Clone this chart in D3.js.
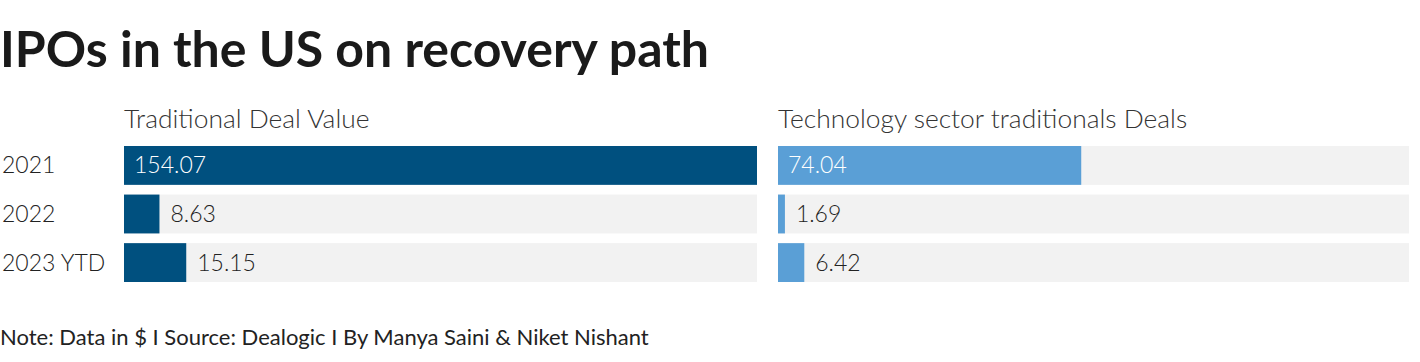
<!DOCTYPE html>
<html>
<head>
<meta charset="utf-8">
<script src="https://cdn.jsdelivr.net/npm/d3@7"></script>
<style>
  body { margin: 0; background: #fff; }
  svg { display: block; font-family: "Source Sans Pro", Lato, "Noto Sans", sans-serif; }
</style>
</head>
<body>
<svg id="chart" width="1420" height="362"></svg>
<script>
var years = ["2021", "2022", "2023 YTD"];
var dealValue = [154.07, 8.63, 15.15];
var techDeals = [74.04, 1.69, 6.42];
var panelTitles = ["Traditional Deal Value", "Technology sector traditionals Deals"];

var svg = d3.select("#chart");

svg.append("text")
    .attr("x", 0).attr("y", 67)
    .attr("font-size", 50).attr("font-weight", 700)
    .attr("fill", "#1a1a1a")
    .text("IPOs in the US on recovery path");

var yScale = d3.scaleBand()
    .domain(years)
    .range([146, 282])
    .paddingInner(0.2);

var maxVal = d3.max(dealValue.concat(techDeals));

var panels = [
    { title: panelTitles[0], values: dealValue, color: "#00507f", range: [124, 757] },
    { title: panelTitles[1], values: techDeals, color: "#5a9fd6", range: [778, 1409] }
];

// row labels
svg.selectAll(".row-label")
    .data(years)
    .enter().append("text")
    .attr("class", "row-label")
    .attr("x", 2)
    .attr("y", function(d) { return yScale(d) + yScale.bandwidth() / 2; })
    .attr("dy", "0.35em")
    .attr("font-size", 23).attr("font-weight", 300)
    .attr("fill", "#222")
    .text(function(d) { return d; });

panels.forEach(function(p) {
    var x = d3.scaleLinear().domain([0, maxVal]).range(p.range);
    var g = svg.append("g");

    g.append("text")
        .attr("x", p.range[0]).attr("y", 128)
        .attr("font-size", 26.4).attr("font-weight", 300)
        .attr("fill", "#333")
        .text(p.title);

    var rows = years.map(function(y, i) { return { year: y, value: p.values[i] }; });

    g.selectAll(".track")
        .data(rows)
        .enter().append("rect")
        .attr("x", x(0))
        .attr("y", function(d) { return yScale(d.year); })
        .attr("width", x(maxVal) - x(0))
        .attr("height", yScale.bandwidth())
        .attr("fill", "#f2f2f2");

    g.selectAll(".bar")
        .data(rows)
        .enter().append("rect")
        .attr("x", x(0))
        .attr("y", function(d) { return yScale(d.year); })
        .attr("width", function(d) { return x(d.value) - x(0); })
        .attr("height", yScale.bandwidth())
        .attr("fill", p.color);

    g.selectAll(".val")
        .data(rows)
        .enter().append("text")
        .attr("x", function(d) {
            var w = x(d.value) - x(0);
            return w > 100 ? x(0) + 10 : x(d.value) + 11;
        })
        .attr("y", function(d) { return yScale(d.year) + yScale.bandwidth() / 2; })
        .attr("dy", "0.35em")
        .attr("font-size", 23).attr("font-weight", 300)
        .attr("fill", function(d) { return x(d.value) - x(0) > 100 ? "#fff" : "#222"; })
        .text(function(d) { return d3.format(".2f")(d.value); });
});

svg.append("text")
    .attr("x", 0).attr("y", 345)
    .attr("font-size", 22).attr("font-weight", 400)
    .attr("fill", "#222")
    .text("Note: Data in $ I Source: Dealogic I By Manya Saini & Niket Nishant");
</script>
</body>
</html>
